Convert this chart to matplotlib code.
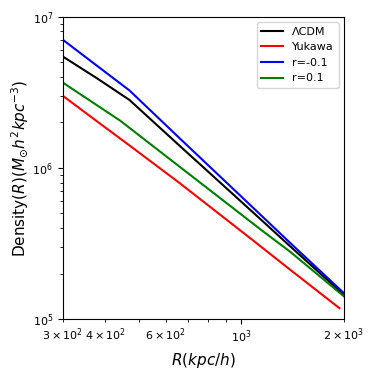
import matplotlib
matplotlib.use("Agg")
import matplotlib.pyplot as plt

R = [300, 377, 470, 660, 1100, 1390, 2000]
lcdm = [5.46e6, 3.93e6, 2.82e6, 1.40e6, 4.91e5, 3.03e5, 1.44e5]
r_neg = [7.05e6, 4.76e6, 3.26e6, 1.57e6, 5.27e5, 3.19e5, 1.48e5]
R_pos = [300, 441, 1150, 1390, 2000]
r_pos = [3.67e6, 2.06e6, 3.85e5, 2.79e5, 1.41e5]
R_yuk = [300, 377, 470, 660, 1100, 1390, 1938]
yukawa = [3.00e6, 2.04e6, 1.41e6, 7.93e5, 3.22e5, 2.12e5, 1.18e5]

fig = plt.figure(figsize=(3.74, 3.74), dpi=100)
ax = fig.add_axes([0.168, 0.147, 0.752, 0.808])
ax.plot(R, lcdm, color="black", lw=1.5, label="ΛCDM")
ax.plot(R_yuk, yukawa, color="red", lw=1.5, label="Yukawa")
ax.plot(R, r_neg, color="blue", lw=1.5, label="r=-0.1")
ax.plot(R_pos, r_pos, color="green", lw=1.5, label="r=0.1")
ax.set_xscale("log")
ax.set_yscale("log")
ax.set_xlim(300, 2000)
ax.set_ylim(1e5, 1e7)
ax.tick_params(labelsize=8, which="both")
ax.set_xlabel("$R(kpc/h)$", fontsize=11)
ax.set_ylabel(r"Density$(R)(M_{\odot}h^2kpc^{-3})$", fontsize=11, labelpad=1)
ax.legend(loc="upper right", fontsize=8)
fig.savefig("out.png", dpi=100)
